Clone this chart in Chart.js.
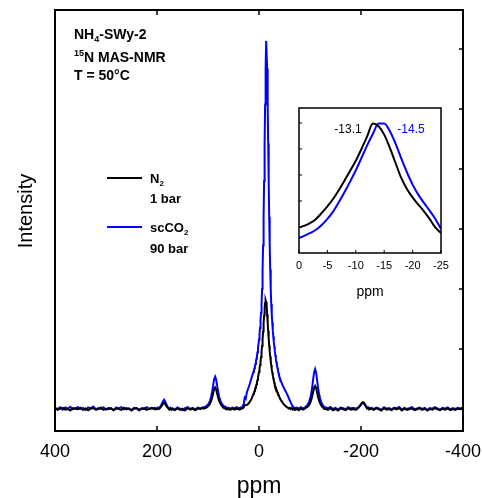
<!DOCTYPE html>
<html>
<head>
<meta charset="utf-8">
<script src="https://cdn.jsdelivr.net/npm/chart.js@4.4.0/dist/chart.umd.min.js"></script>
<style>
  body { margin: 0; background: #fff; }
  #wrap { position: relative; width: 482px; height: 498px; }
  #main { position: absolute; left: 0; top: 0; }
  #inset { position: absolute; left: 280px; top: 100px; }
</style>
</head>
<body>
<div id="wrap">
  <canvas id="main" width="482" height="498"></canvas>
  <canvas id="inset" width="190" height="210"></canvas>
</div>
<script>
// chemical shift grid (ppm), one line per segment
var ppm = [
  400,395,390,385,380,375,370,365,360,355,350,345,340,335,330,325,320,315,310,305,300,295,290,285,280,275,270,265,260,255,250,245,240,235,230,225,220,215,210,205,
  200,198,196,194,192,190,188,186,184,182,180,178,176,174,172,
  170,165,160,155,150,145,140,135,130,125,120,115,110,
  108,106,104,102,100,98,96,94,92,90,88,86,84,82,80,78,76,74,72,70,68,66,64,
  60,56,52,48,44,40,
  38,36,34,32,30,28,26,24,22,20,18,16,14,
  12,11,10,9,8,7,6,5,4,3,2,1,0,-1,-2,-3,-4,-5,-6,-7,-8,-9,-10,-11,-12,-13,-14,-15,-16,-17,-18,-19,-20,-21,-22,-23,-24,-25,-26,-27,-28,-29,-30,-31,-32,-33,-34,-35,-36,-37,-38,-39,-40,
  -42,-44,-46,-48,-50,-52,-54,-56,-58,-60,-62,-64,-66,-68,-70,
  -74,-78,-82,-86,-90,
  -92,-94,-96,-98,-100,-102,-104,-106,-108,-110,-112,-114,-116,-118,-120,-122,-124,-126,-128,
  -130,-135,-140,-145,-150,-155,-160,-165,-170,-175,-180,-185,-190,
  -192,-194,-196,-198,-200,-202,-204,-206,-208,-210,-212,-214,-216,
  -220,-225,-230,-235,-240,-245,-250,-255,-260,-265,-270,-275,-280,-285,-290,-295,-300,-305,-310,-315,-320,-325,-330,-335,-340,-345,-350,-355,-360,-365,-370,-375,-380,-385,-390,-395,-400
];

// N2, 1 bar
var intN2 = [
  0.2,-0.3,0.1,0.4,-0.2,0.0,-0.5,0.3,0.1,-0.1,0.4,-0.3,0.2,-0.4,0.1,0.3,-0.2,0.0,0.5,-0.3,0.1,-0.1,0.3,-0.4,0.2,0.0,-0.3,0.4,-0.1,0.2,-0.5,0.1,0.3,-0.2,0.0,0.2,-0.3,0.1,0.4,-0.1,
  -0.1,0.2,0.0,0.4,0.8,1.3,1.8,2.0,1.7,1.1,0.6,0.2,-0.2,0.1,-0.3,
  0.0,-0.4,0.2,-0.3,0.1,-0.5,0.3,-0.2,0.1,-0.4,0.2,0.0,0.3,
  0.1,0.3,0.4,0.6,0.9,1.2,1.8,2.6,3.7,5.2,6.6,7.2,6.5,5.1,3.7,2.6,1.9,1.3,0.9,0.5,0.2,0.3,-0.1,
  0.0,-0.3,0.2,-0.2,0.1,-0.1,
  -0.2,0.1,0.3,0.2,0.6,1.2,1.3,1.3,1.6,1.9,2.5,2.9,3.6,
  4.6,5.0,5.4,5.9,6.4,7.0,7.6,8.2,8.9,9.7,10.5,11.4,12.4,13.5,14.7,15.9,17.3,19.0,21.0,23.2,25.8,28.5,31.2,33.6,35.4,36.3,35.7,34.0,31.6,28.8,26.0,23.5,21.2,19.2,17.5,16.0,14.6,13.3,12.2,11.2,10.3,9.5,8.8,8.1,7.5,7.0,6.5,6.0,5.6,5.2,4.8,4.4,4.0,
  3.3,2.7,2.2,1.7,1.3,1.0,0.7,0.5,0.2,0.4,0.0,0.3,-0.2,0.1,-0.3,
  0.0,-0.4,0.2,-0.2,0.1,
  0.4,0.6,0.8,1.3,1.9,2.8,4.0,5.5,7.1,7.7,7.0,5.5,3.9,2.7,1.8,1.2,0.7,0.4,0.0,
  0.1,-0.3,0.3,-0.4,0.0,-0.5,0.2,-0.1,-0.4,0.3,-0.2,0.0,-0.3,
  0.0,0.2,0.6,1.0,1.6,2.1,2.3,2.0,1.4,0.7,0.1,0.3,-0.2,
  0.1,-0.3,0.2,-0.1,-0.5,0.3,-0.2,0.0,-0.4,0.2,-0.1,0.3,-0.5,0.1,-0.3,0.0,0.2,-0.4,-0.1,0.2,-0.3,0.1,-0.5,0.0,-0.2,0.3,-0.1,-0.4,0.1,-0.2,0.2,-0.4,0.0,-0.3,0.1,-0.1,0.2
];

// scCO2, 90 bar
var intCO2 = [
  0.4,0.0,0.6,-0.2,0.5,0.1,0.7,-0.1,0.3,0.6,0.0,0.4,-0.3,0.5,0.2,0.8,-0.1,0.3,0.0,0.6,-0.2,0.4,0.1,-0.4,0.5,0.2,0.6,-0.1,0.3,0.0,-0.3,0.4,0.2,-0.5,0.3,0.1,0.6,0.0,0.2,0.4,
  0.2,0.5,0.3,0.7,1.2,1.9,2.7,3.1,2.6,1.7,1.0,0.5,0.2,0.4,0.0,
  0.3,-0.2,0.5,0.1,-0.4,0.3,0.6,0.0,0.4,-0.2,0.5,0.2,0.6,
  0.6,0.5,0.9,1.1,1.5,2.0,2.8,4.0,5.7,7.8,9.9,10.8,9.8,7.7,5.6,4.0,2.9,2.1,1.6,1.1,0.8,0.8,0.4,
  0.4,0.1,0.5,0.2,0.6,0.3,
  0.3,0.5,0.2,0.9,1.6,3.8,3.4,5.4,6.5,7.4,8.4,9.6,10.8,
  11.8,12.3,12.9,13.6,14.3,15.0,15.9,16.8,17.8,18.9,20.2,21.6,23.2,25.0,27.0,29.5,32.0,35.0,40.0,46.5,54.5,64.0,76.0,88.5,101.5,113.5,122.7,122.7,113.5,101.5,88.5,76.0,64.0,54.5,46.5,40.0,35.0,31.5,28.8,26.3,24.2,22.4,20.8,19.4,18.0,16.8,15.7,14.7,13.8,13.0,12.2,11.5,10.8,
  9.8,8.9,8.0,7.3,6.6,6.0,5.3,4.6,3.8,3.0,2.2,1.5,0.9,0.6,0.3,
  0.5,0.1,0.6,0.2,0.4,
  0.9,1.1,1.6,2.4,3.3,4.8,6.9,9.6,12.2,13.3,12.1,9.5,6.8,4.8,3.4,2.4,1.5,1.1,0.6,
  0.6,0.2,0.7,0.0,0.4,-0.2,0.5,0.3,-0.1,0.6,0.2,0.4,0.1,
  0.3,0.5,0.7,1.1,1.5,1.9,2.0,1.8,1.3,0.9,0.4,0.6,0.2,
  0.4,0.0,0.5,0.2,-0.3,0.6,0.1,0.3,-0.1,0.5,0.2,0.7,-0.2,0.4,0.0,0.3,0.6,-0.1,0.2,0.5,0.0,0.4,-0.3,0.3,0.1,0.6,0.2,-0.2,0.4,0.1,0.5,-0.1,0.3,0.0,0.4,0.2,0.5
];

// inset: normalised, 0 to -25 ppm
var insetPpm = [0,-1,-2,-3,-4,-5,-6,-7,-8,-9,-10,-11,-12,-13,-14,-15,-16,-17,-18,-19,-20,-21,-22,-23,-24,-25];
var insetN2  = [19.7,21.0,23.1,26.2,30.8,35.9,41.5,48.2,55.6,63.3,71.0,80.0,89.7,99.5,97.4,91.0,80.8,69.2,57.7,49.2,42.8,37.2,32.1,26.2,19.7,15.4];
var insetCO2 = [11.5,13.3,15.4,17.9,21.5,26.2,31.8,39.0,46.7,54.9,63.6,73.1,82.8,91.5,99.5,99.5,93.6,84.1,72.8,62.1,52.6,44.9,38.5,32.6,26.2,18.5];

var xTicks = [400, 200, 0, -200, -400];
var yTicks = [0, 20, 40, 60, 80, 100, 120];
var insetXTicks = [0, -5, -10, -15, -20, -25];
var insetYTicks = [20, 40, 60, 80, 100];

var FONT = '"Liberation Sans", Arial, sans-serif';
var BLUE = '#0000ff';

function pontos(xs, ys) {
  return xs.map(function (x, i) { return { x: x, y: ys[i] }; });
}

// texto com subscrito / sobrescrito
function escreve(ctx, x, y, partes, size, bold) {
  partes.forEach(function (p) {
    var modo = p[1];
    var s = modo ? Math.round(size * 0.65) : size;
    ctx.font = (bold ? 'bold ' : '') + s + 'px ' + FONT;
    var dy = modo === 'sub' ? size * 0.22 : (modo === 'sup' ? -size * 0.45 : 0);
    ctx.fillText(p[0], x, y + dy);
    x += ctx.measureText(p[0]).width;
  });
}

var molduraPrincipal = {
  id: 'molduraPrincipal',
  afterDatasetsDraw: function (chart) {
    var ctx = chart.ctx, a = chart.chartArea;
    var sx = chart.scales.x, sy = chart.scales.y;
    ctx.save();
    ctx.strokeStyle = '#000';
    ctx.lineWidth = 2;
    ctx.strokeRect(a.left, a.top, a.right - a.left, a.bottom - a.top);
    ctx.lineWidth = 1.5;
    ctx.beginPath();
    xTicks.forEach(function (v) {
      var px = sx.getPixelForValue(v);
      ctx.moveTo(px, a.bottom); ctx.lineTo(px, a.bottom - 5);
      ctx.moveTo(px, a.top); ctx.lineTo(px, a.top + 5);
    });
    yTicks.forEach(function (v) {
      var py = sy.getPixelForValue(v);
      ctx.moveTo(a.right, py); ctx.lineTo(a.right - 4, py);
    });
    ctx.stroke();

    ctx.fillStyle = '#000';
    ctx.textBaseline = 'alphabetic';
    ctx.textAlign = 'left';
    escreve(ctx, 74, 39, [['NH'], ['4', 'sub'], ['-SWy-2']], 14, true);
    escreve(ctx, 74, 62, [['15', 'sup'], ['N MAS-NMR']], 14, true);
    escreve(ctx, 74, 80, [['T = 50°C']], 14, true);

    // legenda
    ctx.lineWidth = 2;
    ctx.strokeStyle = '#000';
    ctx.beginPath(); ctx.moveTo(107, 178); ctx.lineTo(142, 178); ctx.stroke();
    ctx.strokeStyle = BLUE;
    ctx.beginPath(); ctx.moveTo(107, 227); ctx.lineTo(142, 227); ctx.stroke();
    escreve(ctx, 150, 183, [['N'], ['2', 'sub']], 13, true);
    escreve(ctx, 150, 203, [['1 bar']], 13, true);
    escreve(ctx, 150, 232, [['scCO'], ['2', 'sub']], 13, true);
    escreve(ctx, 150, 253, [['90 bar']], 13, true);

    // titulo do eixo y
    ctx.translate(26, 211);
    ctx.rotate(-Math.PI / 2);
    ctx.textAlign = 'center';
    ctx.textBaseline = 'middle';
    ctx.font = '20px ' + FONT;
    ctx.fillText('Intensity', 0, 0);
    ctx.restore();
  }
};

new Chart(document.getElementById('main').getContext('2d'), {
  type: 'line',
  data: {
    datasets: [{
      label: 'N2 1 bar',
      data: pontos(ppm, intN2),
      borderColor: '#000',
      borderWidth: 2,
      pointRadius: 0,
      tension: 0
    }, {
      label: 'scCO2 90 bar',
      data: pontos(ppm, intCO2),
      borderColor: BLUE,
      borderWidth: 2,
      pointRadius: 0,
      tension: 0
    }]
  },
  options: {
    responsive: false,
    animation: false,
    layout: { padding: { left: 55, right: 19, top: 10, bottom: 0 } },
    plugins: { legend: { display: false }, tooltip: { enabled: false } },
    scales: {
      x: {
        type: 'linear',
        reverse: true,
        min: -400,
        max: 400,
        afterFit: function (s) { s.height = 67; s.paddingLeft = 0; s.paddingRight = 0; },
        afterBuildTicks: function (s) { s.ticks = xTicks.map(function (v) { return { value: v }; }); },
        grid: { display: false, drawTicks: false },
        border: { display: false },
        ticks: { color: '#000', font: { family: FONT, size: 18 }, padding: 10, maxRotation: 0, autoSkip: false },
        title: { display: true, text: 'ppm', color: '#000', font: { family: FONT, size: 23, lineHeight: 1 }, padding: 0 }
      },
      y: {
        display: false,
        min: -7.33,
        max: 133
      }
    }
  },
  plugins: [molduraPrincipal]
});

var molduraInset = {
  id: 'molduraInset',
  afterDatasetsDraw: function (chart) {
    var ctx = chart.ctx, a = chart.chartArea;
    var sx = chart.scales.x, sy = chart.scales.y;
    ctx.save();
    ctx.strokeStyle = '#000';
    ctx.lineWidth = 1.5;
    ctx.strokeRect(a.left, a.top, a.right - a.left, a.bottom - a.top);
    ctx.lineWidth = 1;
    ctx.beginPath();
    insetXTicks.forEach(function (v) {
      var px = sx.getPixelForValue(v);
      ctx.moveTo(px, a.bottom); ctx.lineTo(px, a.bottom - 3);
    });
    insetYTicks.forEach(function (v) {
      var py = sy.getPixelForValue(v);
      ctx.moveTo(a.left, py); ctx.lineTo(a.left + 3, py);
    });
    ctx.stroke();
    ctx.font = '12px ' + FONT;
    ctx.textAlign = 'center';
    ctx.textBaseline = 'middle';
    ctx.fillStyle = '#000';
    ctx.fillText('-13.1', 68, 30);
    ctx.fillStyle = BLUE;
    ctx.fillText('-14.5', 131, 30);
    ctx.restore();
  }
};

new Chart(document.getElementById('inset').getContext('2d'), {
  type: 'line',
  data: {
    datasets: [{
      data: pontos(insetPpm, insetN2),
      borderColor: '#000',
      borderWidth: 2,
      pointRadius: 0,
      cubicInterpolationMode: 'monotone'
    }, {
      data: pontos(insetPpm, insetCO2),
      borderColor: BLUE,
      borderWidth: 2,
      pointRadius: 0,
      cubicInterpolationMode: 'monotone'
    }]
  },
  options: {
    responsive: false,
    animation: false,
    layout: { padding: { left: 19, right: 29, top: 8, bottom: 0 } },
    plugins: { legend: { display: false }, tooltip: { enabled: false } },
    scales: {
      x: {
        type: 'linear',
        reverse: true,
        min: -25,
        max: 0,
        afterFit: function (s) { s.height = 57; s.paddingLeft = 0; s.paddingRight = 0; },
        afterBuildTicks: function (s) { s.ticks = insetXTicks.map(function (v) { return { value: v }; }); },
        grid: { display: false, drawTicks: false },
        border: { display: false },
        ticks: { color: '#000', font: { family: FONT, size: 11 }, padding: 6, maxRotation: 0, autoSkip: false },
        title: { display: true, text: 'ppm', color: '#000', font: { family: FONT, size: 14, lineHeight: 1 }, padding: { top: 0, bottom: 11 } }
      },
      y: {
        display: false,
        min: 0,
        max: 111.5
      }
    }
  },
  plugins: [molduraInset]
});
</script>
</body>
</html>
